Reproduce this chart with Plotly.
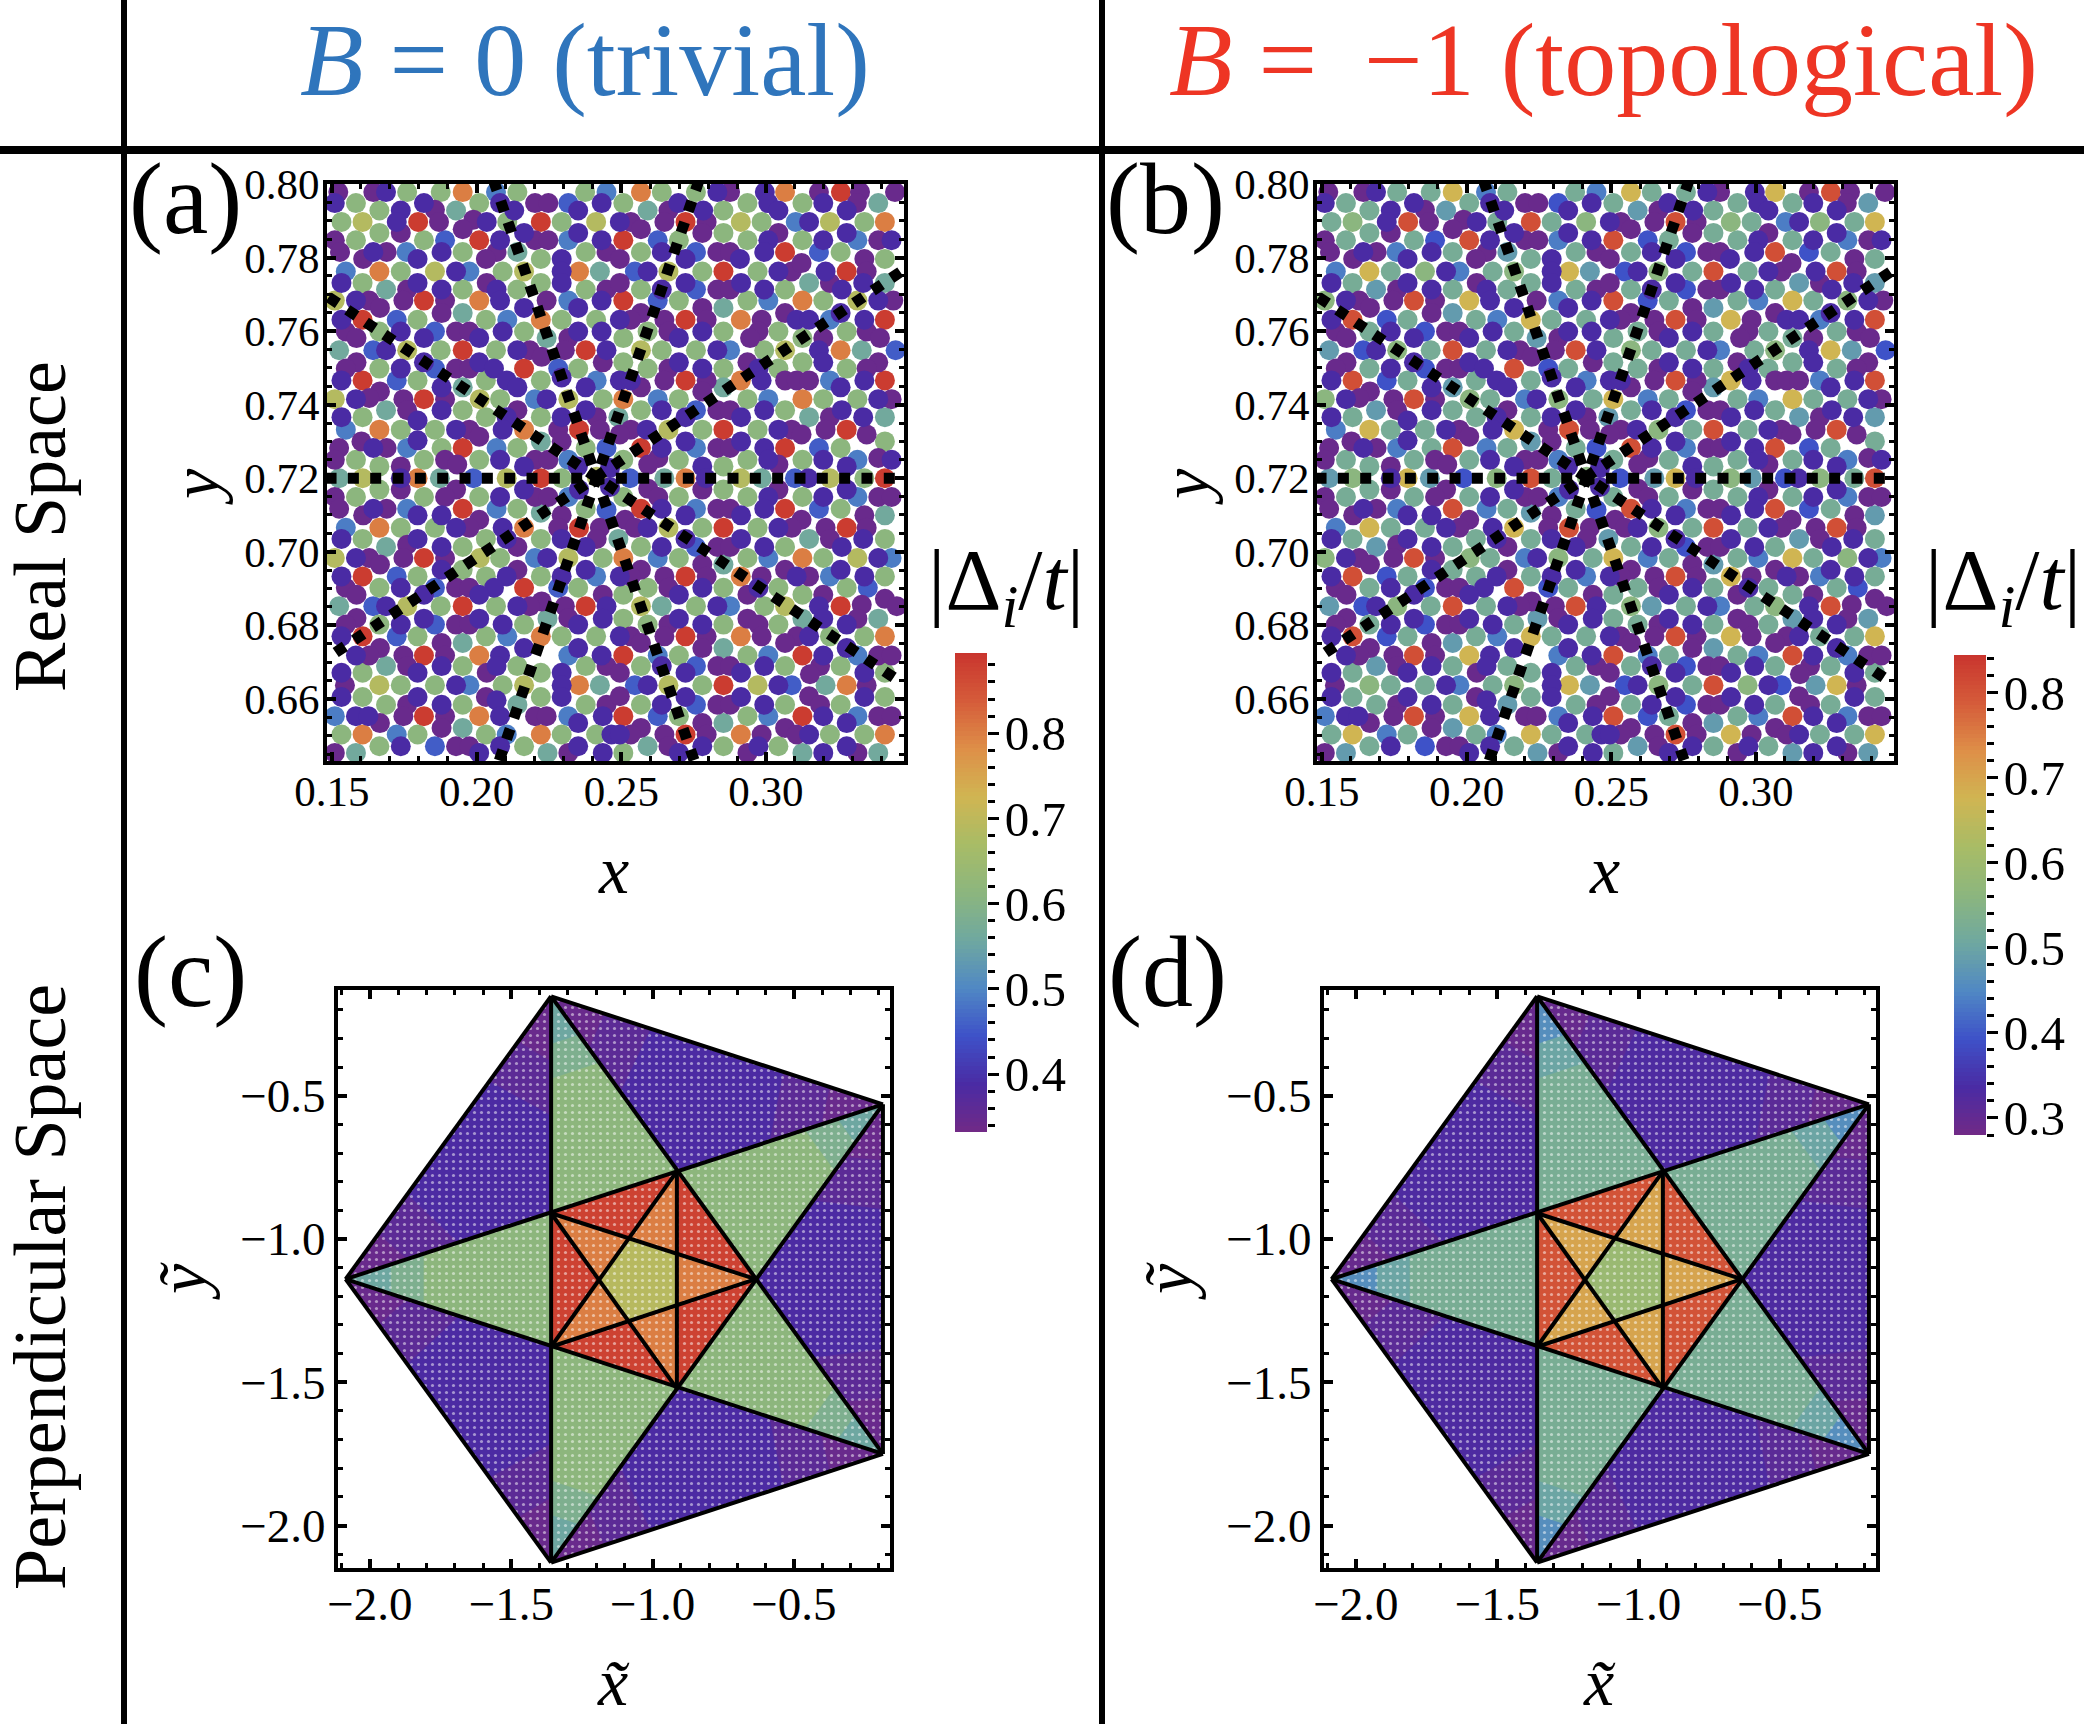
import plotly.graph_objects as go
from plotly.colors import sample_colorscale

# ---- real-space sites (a)/(b): (x, y), grouped by colour level
RED = [(.1798,.7897),(.2222,.7897),(.2009,.7847),(.1818,.7683),(.1606,.7631),(.1952,.7548),(.2377,.7548),(.2164,.7498),(.1606,.7466),(.1818,.7415),(.2354,.7332),(.1952,.7282),(.2222,.72),
 (.2722,.7897),(.2507,.7847),(.3066,.7815),(.2853,.7762),(.3279,.7762),(.2507,.7683),(.2722,.7631),(.3411,.7631),(.2722,.7466),(.3411,.7466),(.2853,.7332),(.3279,.7332),(.2568,.7282),(.3066,.7282),(.3259,.7978),(.3411,.72),
 (.1952,.7117),(.2354,.7065),(.1818,.6983),(.1606,.6933),(.2164,.6902),(.1952,.6852),(.2377,.6852),(.1606,.677),(.1818,.6718),(.1818,.6553),
 (.2568,.7117),(.3066,.7117),(.2853,.7065),(.3279,.7065),(.2722,.6933),(.3258,.6852),(.2722,.677),(.2507,.6718),(.3126,.6718),(.2853,.6637),(.2507,.6553),(.3126,.6553),(.2722,.6503)]
ORANGE = [(.1952,.7978),(.1664,.7762),(.2354,.7762),(.2009,.7683),(.2222,.7631),(.1664,.7332),(.2164,.7332),(.1796,.72),
 (.2568,.7978),(.3066,.7978),(.3411,.7897),(.3126,.7683),(.2913,.7631),(.3258,.7548),(.2913,.7466),(.2507,.7415),(.3126,.7415),(.2722,.72),
 (.1664,.7065),(.2164,.7065),(.2222,.677),(.2009,.6718),(.2354,.6637),(.2009,.6553),(.1606,.6503),(.2222,.6503),
 (.2507,.6983),(.3126,.6983),(.2913,.6933),(.3411,.677),(.2913,.677),(.3279,.6637),(.2913,.6503),(.3411,.6503)]
YELLOW = [(.1606,.7897),(.2413,.7897),(.1856,.7762),(.2164,.7762),(.151,.7683),(.176,.7548),(.151,.7415),(.2011,.7415),(.2317,.7415),(.1606,.72),(.2104,.72),(.2415,.7204),
 (.2913,.7897),(.3221,.7897),(.2663,.7762),(.2568,.7548),(.3066,.7548),(.2663,.7332),(.3316,.7683),(.2913,.72),(.3221,.72),
 (.151,.6983),(.176,.6852),(.2011,.6983),(.2317,.6983),(.1664,.6637),(.2164,.6637),
 (.2663,.7065),(.2568,.6852),(.3066,.6852),(.3316,.6983),(.2663,.6637),(.2971,.6637)]
TEAL = [(.1929,.7928),(.2141,.7815),(.2426,.7762),(.1687,.7713),(.1952,.7649),(.2242,.7581),(.1525,.7548),(.1952,.7447),(.1687,.7385),(.2222,.73),(.1525,.72),(.1873,.72),
 (.2591,.7928),(.3388,.7948),(.3149,.7731),(.3411,.7731),(.2853,.7663),(.3331,.7548),(.2853,.7447),(.3149,.7366),(.3411,.7366),(.249,.7366),(.2649,.72),(.2985,.72),
 (.1687,.7013),(.2426,.6637),(.1525,.6852),(.2245,.6818),(.1952,.6752),(.2141,.6584),(.1952,.6521),(.1583,.6453),(.2245,.6453),(.2222,.7106),(.1687,.6689),
 (.249,.7035),(.3149,.7035),(.2853,.6965),(.3411,.7099),(.264,.6852),(.3126,.6818),(.3388,.6818),(.2853,.6738),(.3206,.6637),(.2853,.6534),(.2591,.6471),(.3126,.6453),(.3388,.6453)]
BLUE = [(.1891,.7847),(.1724,.7631),(.1856,.7599),(.1643,.7548),(.1856,.7498),(.1724,.7466),(.2282,.7498),(.2449,.7282),(.1989,.72),(.2317,.7948),
 (.2626,.7847),(.2758,.7815),(.3183,.7815),(.2758,.7713),(.2626,.7683),(.3448,.7548),(.2758,.7385),(.3183,.7282),(.31,.72),(.253,.72),(.2547,.7762),
 (.1724,.6933),(.1856,.6902),(.2282,.6902),(.1856,.6802),(.1643,.6852),(.1724,.677),(.1856,.6471),(.2449,.7114),
 (.2758,.7013),(.2758,.6689),(.2547,.6637),(.3089,.6637),(.2758,.6584),(.2626,.6553),(.3352,.6902),(.3183,.7117)]
LIGHT = [(.2067,.7978),(.2449,.7978),(.2317,.7847),(.1758,.7815),(.1548,.7762),(.1975,.7762),(.2317,.7683),(.2106,.7631),(.2415,.7466),(.2202,.7415),(.1548,.7332),(.176,.7282),(.2069,.7282),(.2317,.725),
 (.3103,.7897),(.3316,.7847),(.3008,.7683),(.3221,.7631),(.3221,.7466),(.2876,.7548),(.2626,.7415),(.3008,.7415),(.2758,.7282),(.3316,.725),
 (.2317,.7149),(.176,.7117),(.2069,.7117),(.1548,.7065),(.2202,.6983),(.2413,.6933),(.2106,.677),(.2317,.6718),(.1975,.6637),(.151,.6553),(.2317,.6553),(.1724,.6503),(.2104,.6503),
 (.3316,.7149),(.2758,.7117),(.2626,.6983),(.3008,.6983),(.3221,.6933),(.2876,.6852),(.2626,.6718),(.3008,.6718),(.3316,.6718),(.3008,.6553),(.3316,.6553),(.3434,.6983)]
GREEN = [(.176,.7978),(.1876,.7978),(.2141,.7978),(.2375,.7978),(.1583,.7948),(.2009,.7948),(.1664,.7928),(.1533,.7897),(.2106,.7897),(.2294,.7897),(.1664,.7867),(.1583,.7847),(.1818,.7847),(.1952,.7815),(.2377,.7815),(.2222,.7796),(.1738,.7762),(.209,.7762),(.1606,.7731),(.2222,.7731),(.1952,.7713),(.2141,.7713),(.2377,.7713),
 (.1796,.7631),(.2032,.7631),(.2294,.7631),(.2413,.7631),(.1664,.7599),(.2164,.7599),(.1876,.7548),(.2067,.7548),(.1664,.7498),(.2351,.7498),(.1796,.7466),(.2032,.7466),(.2222,.7466),(.2081,.7415),(.2436,.7415),(.1952,.7385),(.1606,.7366),(.2032,.7366),(.2222,.7366),(.1738,.7332),(.1856,.7332),(.1879,.7282),(.2141,.7282),(.2377,.7282),(.1583,.725),(.1818,.725),(.2009,.725),(.1664,.7232),(.2294,.72),(.334,.72),
 (.264,.7978),(.2758,.7978),(.2507,.7948),(.2936,.7948),(.3126,.7948),(.2853,.7928),(.2985,.7897),(.334,.7897),(.2853,.7867),(.2699,.7847),(.2936,.7847),(.3126,.7847),(.2568,.7815),(.3258,.7815),(.3411,.7796),(.278,.7762),(.2971,.7762),(.2568,.7713),(.3066,.7713),(.2699,.7683),(.2936,.7683),(.3198,.7683),
 (.2591,.7599),(.2853,.7599),(.3043,.7599),(.3279,.7599),(.2507,.7581),(.3126,.7581),(.264,.7548),(.2758,.7548),(.2994,.7548),(.2507,.7515),(.3126,.7515),(.2591,.7498),(.2853,.7498),(.3043,.7498),(.3279,.7498),(.2699,.7415),(.2936,.7415),(.3198,.7415),(.3316,.7415),(.2568,.7385),(.3066,.7385),(.278,.7332),(.2971,.7332),(.3411,.73),(.3258,.7282),(.2507,.725),(.2699,.725),(.2936,.725),(.3126,.725),(.2853,.7232),
 (.1583,.7149),(.1818,.7149),(.2009,.7149),(.1664,.7169),(.2141,.7117),(.2377,.7117),(.1738,.7065),(.1856,.7065),(.1606,.7035),(.2032,.7035),(.2222,.7035),(.1952,.7013),(.2081,.6983),(.2436,.6983),(.1952,.6951),(.1796,.6933),(.2032,.6933),(.2222,.6933),(.1664,.6902),(.2351,.6902),(.1876,.6852),(.2067,.6852),(.1664,.6802),(.2164,.6802),(.1796,.677),(.2032,.677),(.2294,.677),(.2413,.677),
 (.1952,.6689),(.2141,.6689),(.2377,.6689),(.1606,.6671),(.2222,.6671),(.1738,.6637),(.1856,.6637),(.209,.6637),(.1687,.6584),(.1952,.6584),(.2377,.6584),(.2222,.6605),(.1606,.6605),(.1533,.6503),(.1796,.6503),(.2032,.6503),(.2294,.6503),(.2413,.6503),(.1664,.6471),(.2164,.6471),
 (.2853,.7169),(.2507,.7149),(.2699,.7149),(.2936,.7149),(.3126,.7149),(.3258,.7117),(.278,.7065),(.2971,.7065),(.3411,.7035),(.2568,.7013),(.3066,.7013),(.2699,.6983),(.2936,.6983),(.3198,.6983),(.3411,.6933),(.2591,.6902),(.2853,.6902),(.3043,.6902),(.3279,.6902),(.2507,.6883),(.3126,.6883),(.2758,.6852),(.2994,.6852),(.2507,.6818),(.2591,.6802),(.2853,.6802),(.3043,.6802),(.3221,.677),(.334,.677),
 (.2699,.6718),(.2936,.6718),(.2568,.6689),(.3066,.6689),(.3258,.6689),(.3411,.6671),(.278,.6637),(.3411,.6605),(.2568,.6584),(.3066,.6584),(.3258,.6584),(.2699,.6553),(.2936,.6553),(.3221,.6503),(.334,.6503),(.2853,.6471),(.3043,.6471),(.2507,.6453)]
INDIGO = [(.1687,.7978),(.151,.7948),(.1818,.7948),(.2081,.7948),(.2432,.7948),(.1738,.7928),(.213,.7928),(.2351,.7928),(.1724,.7897),(.2035,.7897),(.2164,.7867),(.2351,.7867),(.2081,.7847),(.2432,.7847),(.1643,.7815),(.1879,.7815),(.1796,.7796),(.2294,.7796),(.1929,.7762),(.2294,.7762),(.1533,.7731),(.1796,.7731),(.2294,.7731),(.1879,.7713),(.2069,.7713),(.1583,.7683),(.2081,.7683),(.2432,.7683),(.2164,.7663),(.2351,.7663),(.1533,.7631),(.1738,.7599),(.209,.7599),(.2351,.7599),(.2432,.7599),(.1818,.7581),(.2009,.7581),(.1687,.7548),(.2141,.7548),(.2449,.7548),(.1818,.7515),(.2009,.7515),(.1738,.7498),(.206,.7498),(.1533,.7466),(.2104,.7466),(.1879,.7447),(.2141,.7447),(.2377,.7447),(.2294,.7474),(.1583,.7415),(.2242,.7415),(.1879,.7385),(.2377,.7385),(.1533,.7366),(.2104,.7366),(.2294,.7366),(.1796,.7357),(.1929,.7332),(.209,.7332),(.1796,.7303),(.1643,.7282),(.2081,.725),(.2164,.7232),(.1738,.72),(.235,.7232),(.2461,.7228),(.2461,.7176),
 (.2832,.7978),(.2996,.7978),(.2697,.7948),(.3008,.7948),(.3198,.7948),(.2783,.7928),(.3043,.7928),(.3279,.7928),(.2495,.7897),(.3149,.7897),(.3008,.7847),(.3198,.7847),(.3434,.7847),(.3279,.7867),(.264,.7815),(.2994,.7815),(.2722,.7796),(.291,.7796),(.2591,.7762),(.3043,.7762),(.3206,.7762),(.2722,.7731),(.2914,.7731),(.3336,.7731),(.264,.7713),(.2994,.7713),(.3262,.7713),(.3388,.7683),(.3258,.7649),(.2495,.7631),(.3106,.7631),(.3149,.7631),(.334,.7631),(.278,.7599),(.2699,.7581),(.2832,.7548),(.3183,.7548),(.2699,.7515),(.3198,.7515),(.278,.7498),(.2974,.7498),(.2495,.7466),(.2533,.7466),(.2985,.7466),(.334,.7466),(.3258,.7447),(.3388,.7415),(.264,.7385),(.2994,.7385),(.3262,.7385),(.2722,.7366),(.2914,.7366),(.3336,.7366),(.2588,.7332),(.3043,.7332),(.2722,.73),(.2914,.73),(.264,.7282),(.2994,.7282),(.3008,.725),(.3198,.725),(.3434,.725),(.278,.7232),(.3279,.7232),(.2792,.72),(.3146,.72),
 (.2164,.7169),(.2354,.7169),(.2081,.7149),(.1643,.7117),(.1796,.7099),(.1879,.7099),(.1929,.7065),(.209,.7065),(.1533,.7035),(.1796,.7035),(.2104,.7035),(.2294,.7035),(.1879,.7013),(.2377,.7013),(.1583,.6983),(.2244,.6983),(.1879,.6951),(.2377,.6951),(.1533,.6933),(.2104,.6933),(.2294,.6933),(.1738,.6902),(.206,.6902),(.1818,.6883),(.2009,.6883),(.1687,.6852),(.2141,.6852),(.2449,.6852),(.1818,.6818),(.2009,.6818),(.2436,.6818),(.1738,.6802),(.209,.6802),(.2351,.6802),(.1533,.677),(.2164,.6738),(.2351,.6738),(.1583,.6718),(.2081,.6718),(.2432,.6718),(.1879,.6689),(.2069,.6689),(.1533,.6671),(.1796,.6671),(.2294,.6671),(.1929,.6637),(.2294,.6637),(.2294,.6605),(.1533,.6605),(.1796,.6605),(.2069,.6596),(.1879,.6584),(.1583,.6553),(.1626,.6553),(.2081,.6553),(.2436,.6553),(.2351,.6534),(.2466,.6503),(.1738,.6471),(.2081,.6471),(.2351,.6471),(.2009,.6453),(.2436,.6453),
 (.3008,.7149),(.3198,.7149),(.3279,.7169),(.264,.7117),(.2994,.7117),(.2722,.7099),(.2914,.7099),(.2591,.7065),(.3043,.7065),(.2722,.7035),(.2914,.7035),(.3336,.7035),(.264,.7013),(.2994,.7013),(.3262,.7013),(.3388,.6983),(.3258,.6951),(.2495,.6933),(.3106,.6933),(.334,.6933),(.278,.6902),(.2974,.6902),(.2699,.6883),(.2832,.6852),(.3183,.6852),(.2699,.6818),(.3198,.6818),(.278,.6802),(.3279,.6802),(.2495,.677),(.3149,.677),(.3279,.6738),(.3198,.6718),(.264,.6689),(.2994,.6689),(.2722,.6671),(.2914,.6671),(.334,.6671),(.2591,.6637),(.3043,.6637),(.2722,.6605),(.2914,.6605),(.334,.6605),(.264,.6584),(.2994,.6584),(.3198,.6553),(.3279,.6534),(.2495,.6503),(.3149,.6503),(.278,.6471),(.2974,.6471),(.3279,.6471),(.2699,.6453),(.3198,.6453)]
PURPLE = [(.1522,.7978),(.1643,.7978),(.2202,.7948),(.2248,.7948),(.1856,.793),(.1989,.7903),(.187,.7897),(.1952,.7877),(.1738,.7867),(.151,.7847),(.2202,.7847),(.2248,.7847),(.1528,.7815),(.1689,.7815),(.2069,.7815),(.2449,.7815),(.1608,.7796),(.2032,.7796),(.2035,.7731),(.176,.7713),(.2449,.7713),(.1629,.7683),(.1747,.7683),(.1891,.7683),(.2242,.7683),(.1666,.7663),(.1879,.7649),(.1548,.7599),(.1929,.7599),(.1975,.7599),(.1585,.7581),(.2317,.7581),(.2184,.7548),(.2305,.7548),(.2225,.753),(.1585,.7515),(.2436,.7515),(.1548,.7498),(.1929,.7498),(.1975,.7498),(.1666,.7436),(.1629,.7418),(.1747,.7415),(.1891,.7415),(.176,.7385),(.2141,.7385),(.2415,.7366),(.1975,.7332),(.2282,.7332),(.2426,.7332),(.2009,.7313),(.2294,.73),(.1602,.73),(.1525,.7282),(.1689,.7282),(.151,.725),(.1891,.725),(.2202,.725),(.2248,.725),(.1933,.7237),(.1738,.7232),
 (.2876,.7978),(.3183,.7978),(.3325,.7978),(.3446,.7978),(.3314,.7948),(.2663,.7928),(.2533,.7897),(.2649,.7897),(.2795,.7897),(.2568,.7877),(.278,.7867),(.3043,.7867),(.3388,.7847),(.2832,.7815),(.2876,.7815),(.2495,.7796),(.334,.7796),(.3089,.7762),(.3348,.7762),(.3123,.7785),(.2495,.7731),(.3221,.7731),(.2832,.7713),(.2876,.7713),(.344,.7683),(.278,.7663),(.3066,.7649),(.2568,.7649),(.2533,.7631),(.2649,.7631),(.2795,.7631),(.2985,.7631),(.2663,.7599),(.2974,.7599),(.3348,.7599),(.2945,.7581),(.3198,.7581),(.3394,.7581),(.2936,.7515),(.3388,.7515),(.2663,.7498),(.3348,.7498),(.2649,.7466),(.2795,.7466),(.3066,.7466),(.3106,.7466),(.3149,.7466),(.2568,.7447),(.278,.7436),(.3434,.7415),(.2832,.7385),(.2876,.7385),(.3221,.7366),(.2533,.7332),(.3089,.7332),(.3206,.7332),(.2495,.7319),(.3123,.7319),(.3348,.7319),(.2832,.7282),(.2876,.7282),(.2628,.7255),(.3388,.7255),(.2593,.7237),(.3043,.7237),
 (.1738,.7169),(.1929,.7169),(.151,.7149),(.1891,.7149),(.2202,.7149),(.2248,.7149),(.1525,.7117),(.1689,.7117),(.1608,.7099),(.2294,.7099),(.2009,.7087),(.1975,.7065),(.2282,.7065),(.2426,.7065),(.2415,.7035),(.176,.7019),(.2141,.7013),(.1629,.6983),(.1747,.6983),(.1891,.6983),(.1666,.6965),(.2141,.6951),(.1548,.6902),(.1929,.6902),(.1975,.6902),(.1585,.6883),(.2436,.6883),(.2225,.6865),(.2184,.6852),(.2305,.6852),(.1585,.682),(.2317,.682),(.1548,.6802),(.1929,.6802),(.1975,.6802),(.1879,.6752),(.1666,.6738),(.1629,.6718),(.1747,.6718),(.1891,.6718),(.176,.6689),(.2449,.6689),(.2035,.6671),(.1545,.6637),(.2032,.6605),(.176,.6584),(.2449,.6584),(.1747,.6553),(.1891,.6553),(.2202,.6553),(.2242,.6553),(.1666,.6534),(.1879,.6521),(.1929,.6471),(.1975,.6471),(.151,.6453),(.2317,.6453),
 (.2593,.7171),(.278,.7169),(.3043,.7169),(.2628,.7149),(.3388,.7149),(.3434,.7149),(.2832,.7117),(.2876,.7117),(.334,.7099),(.2513,.7087),(.3123,.7087),(.2547,.7065),(.3089,.7065),(.3206,.7065),(.3348,.7065),(.3221,.7035),(.2832,.7013),(.2876,.7013),(.278,.6965),(.2568,.6951),(.3066,.6951),(.2533,.6933),(.2649,.6933),(.2795,.6933),(.2985,.6933),(.3149,.6933),(.2663,.6902),(.2936,.6883),(.3198,.6883),(.3411,.6872),(.3331,.6856),(.3452,.6852),(.2936,.6818),(.3316,.6818),(.2663,.6802),(.2974,.6802),(.2533,.677),(.2649,.677),(.2795,.677),(.2985,.677),(.3106,.677),(.2568,.6752),(.3066,.6752),(.278,.6738),(.3388,.6718),(.3434,.6718),(.2832,.6689),(.2876,.6689),(.3187,.6689),(.2495,.6671),(.3152,.6667),(.3348,.6637),(.2495,.6607),(.3149,.6607),(.2832,.6584),(.2876,.6584),(.3187,.6584),(.3388,.6553),(.3434,.6553),(.278,.6534),(.2568,.6521),(.3066,.6521),(.2533,.6503),(.2649,.6503),(.2795,.6503),(.2985,.6503),(.3106,.6503),(.2663,.6471),(.2936,.6453),(.3316,.6453)]

# |Delta_i/t| of each colour level, panels (a) and (b)
LEVEL_A = dict(red=.883, orange=.80, yellow=.686, green=.613, teal=.562, light=.489, blue=.456, indigo=.388, purple=.343)
LEVEL_B = dict(red=.805, orange=.675, yellow=.56, green=.522, teal=.483, light=.438, blue=.393, indigo=.336, purple=.291)

# guide lines in real space: (x0, y0, x1, y1)
RAYS = [(.1478,.72,.3451,.72),(.1513,.6726,.3465,.7761),(.1489,.7692,.3442,.6658),(.2058,.8011,.2755,.6425),(.2769,.8011,.2075,.6425)]

# perpendicular-space window (c)/(d)
OUTER = dict(top=(-1.359,-.153), ru=(-.185,-.53), rl=(-.185,-1.75), bot=(-1.359,-2.129), left=(-2.086,-1.14))
INNER = dict(A=(-1.359,-.91), B=(-.914,-.764), C=(-.635,-1.14), D=(-.914,-1.522), E=(-1.359,-1.376))
CORE = dict(p=(-1.08,-1.005), q=(-.914,-1.054), r=(-.914,-1.232), s=(-1.08,-1.288), t=(-1.19,-1.14))

FILL_C = dict(outer=.343, edge_mid=.362, band=.386, tip=.555, mid=.585, star=.615, edge=.875, point=.80, centre=.69)
FILL_D = dict(outer=.294, edge_mid=.312, band=.33, tip=.46, mid=.50, star=.525, edge=.80, point=.70, centre=.59)

RANGE_A = (.332, .894)
RANGE_B = (.28, .844)

COLORSCALE = [[0,'#712A86'],[.1,'#4A2BA4'],[.2,'#3E52C8'],[.3,'#5088C4'],[.4,'#6FA8A0'],[.5,'#8CB67E'],
              [.6,'#A8BC66'],[.7,'#D0B552'],[.8,'#DE8F48'],[.9,'#D55B3A'],[1,'#C9352E']]

W, H = 2084, 1724
SERIF = 'Liberation Serif'
def px(x): return x / W
def py(y): return 1 - y / H

GROUPS = [('light',LIGHT),('blue',BLUE),('green',GREEN),('teal',TEAL),('yellow',YELLOW),('orange',ORANGE),('red',RED),('purple',PURPLE),('indigo',INDIGO)]

fig = go.Figure()

def lerp(a, b, f): return (a[0]+(b[0]-a[0])*f, a[1]+(b[1]-a[1])*f)

def sites(levels, axis, ca):
    xs, ys, cs = [], [], []
    for name, pts in GROUPS:
        for p in pts:
            xs.append(p[0]); ys.append(p[1]); cs.append(levels[name])
    fig.add_trace(go.Scatter(x=xs, y=ys, mode='markers', xaxis='x'+axis, yaxis='y'+axis, hoverinfo='skip',
        marker=dict(size=20, color=cs, coloraxis=ca, line=dict(width=0))))
    for r in RAYS:
        fig.add_trace(go.Scatter(x=[r[0],r[2]], y=[r[1],r[3]], mode='lines', xaxis='x'+axis, yaxis='y'+axis, hoverinfo='skip',
            line=dict(color='black', width=11, dash='11px,11.33px')))

def region(poly, val, rng, axis):
    col = sample_colorscale(COLORSCALE, (val-rng[0])/(rng[1]-rng[0]))[0]
    xs = [p[0] for p in poly] + [poly[0][0]]
    ys = [p[1] for p in poly] + [poly[0][1]]
    fig.add_trace(go.Scatter(x=xs, y=ys, mode='none', fill='toself', fillcolor=col, xaxis='x'+axis, yaxis='y'+axis, hoverinfo='skip',
        fillpattern=dict(shape='.', fgcolor='white', bgcolor=col, size=7, solidity=.16)))

def window(F, rng, axis):
    O, I, K = OUTER, INNER, CORE
    for a, b, c in [('top','ru','B'),('ru','rl','C'),('rl','bot','D'),('bot','left','E'),('left','top','A')]:
        region([O[a],O[b],I[c]], F['outer'], rng, axis)
        region([lerp(O[a],O[b],.16),lerp(O[a],O[b],.84),lerp(O[b],I[c],.3),I[c],lerp(O[a],I[c],.3)], F['edge_mid'], rng, axis)
        region([lerp(O[a],O[b],.3),lerp(O[a],O[b],.7),lerp(O[b],I[c],.55),I[c],lerp(O[a],I[c],.55)], F['band'], rng, axis)
    for t, a, b in [('top','B','A'),('ru','C','B'),('rl','D','C'),('bot','E','D'),('left','A','E')]:
        region([O[t],I[a],I[b]], F['star'], rng, axis)
        region([O[t],lerp(O[t],I[a],.38),lerp(O[t],I[b],.38)], F['mid'], rng, axis)
        region([O[t],lerp(O[t],I[a],.22),lerp(O[t],I[b],.22)], F['tip'], rng, axis)
    for a, b, k in [('A','B','p'),('B','C','q'),('C','D','r'),('D','E','s'),('E','A','t')]:
        region([I[a],I[b],K[k]], F['edge'], rng, axis)
    for a, k1, k2 in [('A','t','p'),('B','p','q'),('C','q','r'),('D','r','s'),('E','s','t')]:
        region([I[a],K[k1],K[k2]], F['point'], rng, axis)
    region([K[k] for k in 'pqrst'], F['centre'], rng, axis)
    segs = [(O['top'],O['ru']),(O['ru'],O['rl']),(O['rl'],O['bot']),(O['bot'],O['left']),(O['left'],O['top']),
            (O['top'],O['bot']),(O['top'],O['rl']),(O['ru'],O['left']),(O['ru'],O['bot']),(O['rl'],O['left']),
            (I['A'],I['C']),(I['A'],I['D']),(I['B'],I['E']),(I['B'],I['D']),(I['E'],I['C'])]
    xs, ys = [], []
    for s, e in segs:
        xs += [s[0], e[0], None]; ys += [s[1], e[1], None]
    fig.add_trace(go.Scatter(x=xs, y=ys, mode='lines', xaxis='x'+axis, yaxis='y'+axis, hoverinfo='skip',
        line=dict(color='black', width=4)))

def bar(rng, axis, ca):
    n = 120
    vals = [rng[0] + (rng[1]-rng[0])*i/(n-1) for i in range(n)]
    fig.add_trace(go.Heatmap(z=[[v] for v in vals], y=vals, x=[0], coloraxis=ca, xaxis='x'+axis, yaxis='y'+axis, hoverinfo='skip'))

sites(LEVEL_A, '', 'coloraxis')
sites(LEVEL_B, '2', 'coloraxis2')
window(FILL_C, RANGE_A, '3')
window(FILL_D, RANGE_B, '4')
bar(RANGE_A, '5', 'coloraxis')
bar(RANGE_B, '6', 'coloraxis2')

def frame(dom_x, dom_y, rng, anchor, tick0, dtick, minor, fmt, size, standoff):
    return dict(domain=[dom_x, dom_y], range=rng, anchor=anchor, tick0=tick0, dtick=dtick, tickformat=fmt, automargin=False,
        showgrid=False, zeroline=False, showline=True, linewidth=4, linecolor='black', mirror='ticks',
        ticks='inside', ticklen=9, tickwidth=3.5, tickcolor='black',
        minor=dict(dtick=minor, tick0=tick0, ticks='inside', ticklen=5, tickwidth=3, tickcolor='black', showgrid=False),
        tickfont=dict(family=SERIF, size=size, color='black'), ticklabelstandoff=standoff)

XR, YR = [.1483,.3477], [.6431,.80]
XP, YP = [-2.113,-.16], [-2.148,-.131]
layout = dict(width=W, height=H, margin=dict(l=0,r=0,t=0,b=0,pad=0,autoexpand=False), paper_bgcolor='white', plot_bgcolor='white', showlegend=False,
    coloraxis=dict(colorscale=COLORSCALE, cmin=RANGE_A[0], cmax=RANGE_A[1], showscale=False),
    coloraxis2=dict(colorscale=COLORSCALE, cmin=RANGE_B[0], cmax=RANGE_B[1], showscale=False))

layout['xaxis']  = frame(px(327),  px(904),  XR, 'y',  .15, .05, .01, '.2f', 43, -11)
layout['yaxis']  = frame(py(761),  py(184),  YR, 'x',  .66, .02, .005, '.2f', 43, -5)
layout['xaxis2'] = frame(px(1317), px(1894), XR, 'y2', .15, .05, .01, '.2f', 43, -11)
layout['yaxis2'] = frame(py(761),  py(184),  YR, 'x2', .66, .02, .005, '.2f', 43, -5)
layout['xaxis3'] = frame(px(338),  px(890),  XP, 'y3', -2, .5, .1, '.1f', 47, -8)
layout['yaxis3'] = frame(py(1568), py(990),  YP, 'x3', -2, .5, .1, '.1f', 47, -1)
layout['xaxis4'] = frame(px(1324), px(1876), XP, 'y4', -2, .5, .1, '.1f', 47, -8)
layout['yaxis4'] = frame(py(1568), py(990),  YP, 'x4', -2, .5, .1, '.1f', 47, -1)

def bar_axes(xk, yk, x0, x1, y0, y1, rng, anchor_x, anchor_y, tick0):
    layout[xk] = dict(domain=[px(x0), px(x1)], anchor=anchor_y, visible=False, range=[-.5,.5], fixedrange=True, automargin=False)
    layout[yk] = dict(domain=[py(y1), py(y0)], anchor=anchor_x, side='right', range=list(rng), tick0=tick0, dtick=.1, tickformat='.1f', automargin=False,
        showgrid=False, zeroline=False, showline=False, ticks='outside', ticklen=11, tickwidth=2.5, tickcolor='black',
        minor=dict(dtick=.02, tick0=tick0, ticks='outside', ticklen=7, tickwidth=2.5, tickcolor='black', showgrid=False),
        tickfont=dict(family=SERIF, size=49, color='black'), ticklabelstandoff=-4)
bar_axes('xaxis5','yaxis5',955,987,653,1132,RANGE_A,'x5','y5',.4)
bar_axes('xaxis6','yaxis6',1954,1986,655,1135,RANGE_B,'x6','y6',.3)

def note(text, x, y, size, color='black', angle=0, anchor='middle'):
    return dict(text=text, x=px(x), y=py(y), xref='paper', yref='paper', showarrow=False, xanchor='center', yanchor=anchor,
                textangle=angle, font=dict(family=SERIF, size=size, color=color))

BLUE_T, RED_T = '#2F75BC', '#EE3524'
notes = [
    note('<i>B</i> = 0 (trivial)', 585, 0, 104, BLUE_T, anchor='top'),
    note('<i>B</i> =\u2009 \u22121 (topological)', 1603, 0, 104, RED_T, anchor='top'),
    note('Real Space', 40, 527, 74, angle=-90),
    note('Perpendicular Space', 40, 1287, 74, angle=-90),
    note('(a)', 186, 198, 102), note('(b)', 1165, 198, 102),
    note('(c)', 190, 972, 102), note('(d)', 1167, 972, 102),
    note('<i>x</i>', 613, 870, 68), note('<i>x</i>', 1604, 870, 68),
    note('<i>y</i>', 196, 487, 68, angle=-90), note('<i>y</i>', 1186, 487, 68, angle=-90),
    note('<i>x\u0303</i>', 613, 1722, 68, anchor='bottom'), note('<i>x\u0303</i>', 1599, 1722, 68, anchor='bottom'),
    note('<i>\u1ef9</i>', 183, 1281, 68, angle=-90), note('<i>\u1ef9</i>', 1169, 1281, 68, angle=-90),
    note('|\u0394<sub><i>i</i></sub>/<i>t</i>|', 1006, 585, 87),
    note('|\u0394<sub><i>i</i></sub>/<i>t</i>|', 2003, 585, 87),
]
layout['annotations'] = notes

def rule(x0, y0, x1, y1, w):
    return dict(type='line', xref='paper', yref='paper', x0=px(x0), y0=py(y0), x1=px(x1), y1=py(y1), line=dict(color='black', width=w))
layout['shapes'] = [rule(0,150,W,150,8), rule(124,0,124,H,6), rule(1102,0,1102,H,6)]

fig.update_layout(**layout)
fig.write_html('out.html', config=dict(displayModeBar=False), post_script="document.body.style.margin='0';")
